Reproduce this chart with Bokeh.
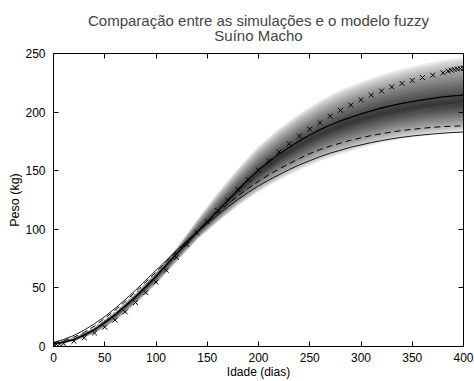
import numpy as np
from bokeh.plotting import figure
from bokeh.models import Range1d, LinearAxis, Title, SingleIntervalTicker
from bokeh.embed import file_html
from bokeh.resources import INLINE

# ---- data ----
dias = list(range(0, 401, 10))
solida_sup = [2, 3.5, 6, 9.5, 14.5, 20.5, 27, 34.5, 42.5, 51, 60, 69.5, 79, 88.5, 97.5,
              106.5, 115.5, 124.5, 133.5, 142.5, 150.5, 157.5, 164, 170, 175.5, 180.5,
              185, 189, 192.5, 195.5, 198.5, 201, 203.5, 205.5, 207.5, 209, 210.5,
              211.8, 213, 213.8, 214.5]
pontilhada = [2.5, 4.5, 7.5, 11.5, 16.5, 22.5, 29.5, 37, 45, 53.5, 62, 71, 80, 89, 98,
              106.5, 115, 123, 130.5, 137.5, 144, 150, 155.5, 160.5, 165, 169.5, 174,
              178, 181.5, 185, 188, 190.5, 193, 195.5, 197.5, 199.5, 201.5, 203.5,
              205, 206.5, 207.5]
tracejada = [3, 5, 8, 12, 17.5, 24, 31, 38.5, 46.5, 55, 63.5, 72.5, 81, 89.5, 98, 106,
             114, 121.5, 128.5, 135, 141, 146.5, 151.5, 156, 160.5, 164.5, 168, 171,
             173.5, 176, 178, 180, 181.5, 183, 184.3, 185.3, 186.2, 187, 187.6, 188, 188.3]
solida_inf = [3.5, 6, 9.5, 14, 19.5, 25.5, 32.5, 40, 48, 56.5, 65, 73.5, 82, 90, 97.5,
              105, 112, 119, 125.5, 131.5, 137, 142, 146.5, 151, 155, 158.5, 162, 165,
              167.5, 170, 172, 174, 175.7, 177.2, 178.5, 179.6, 180.5, 181.3, 182,
              182.6, 183]

dias_marc = [0, 3, 6] + list(range(10, 381, 10)) + [385, 388, 391, 394, 397, 400]
peso_marc = [1.5, 1.8, 2.1, 2.5, 4.5, 7.5, 11.5, 16.5, 22.5, 29.5, 37.5, 46, 55, 65, 76,
             87, 97, 106.5, 116, 125, 134, 142.5, 150.5, 158.5, 166, 173, 179.5, 185.5,
             191, 196.5, 201.5, 206, 210.5, 214.5, 218, 221.5, 224.5, 227, 229.5, 231.5,
             233.5, 235, 235.7, 236.3, 236.8, 237.2, 237.5]

# fuzzy band (lower edge, peak, upper edge)
dias_fuzzy = list(range(0, 401, 20))
fuzzy_inf = [1.5, 4.5, 11, 21.5, 36, 53, 72, 91, 106, 120, 132, 142, 150.5, 158, 164,
             169, 173.5, 177, 179.5, 181.5, 183]
fuzzy_pico = [2, 6, 14.5, 27, 42, 59.5, 79, 97.5, 115, 132, 148, 161, 172, 181, 188,
              194, 198.5, 202, 205, 207, 208.5]
fuzzy_sup = [2, 7, 16, 29, 45, 63, 84, 108, 131, 152, 171, 186, 199, 210, 219, 226,
             232, 237, 241, 244.5, 247]

titulo = "Comparação entre as simulações e o modelo fuzzy"
subtitulo = "Suíno Macho"

xticks_step = 50
yticks_step = 50

FONT = "Liberation Sans"

p = figure(width=474, height=381, x_range=Range1d(0, 400), y_range=Range1d(0, 250),
           output_backend="svg", toolbar_location=None,
           min_border_left=53, min_border_right=11, min_border_top=53, min_border_bottom=32)
p.grid.visible = False
p.outline_line_color = "black"
p.outline_line_width = 1
p.background_fill_color = "white"
p.border_fill_color = "white"

# gradient band
lo = np.array(fuzzy_inf, dtype=float)
pk = np.array(fuzzy_pico, dtype=float)
hi = np.array(fuzzy_sup, dtype=float)
N = 36
for i in range(N):
    t = i / N
    y1 = lo + (pk - lo) * t
    y2 = hi - (hi - pk) * t
    d = ((i + 1) / N) ** 0.7
    g = int(round(255 - (255 - 55) * d))
    col = "#%02x%02x%02x" % (g, g, g)
    p.varea(x=dias_fuzzy, y1=y1, y2=y2, fill_color=col)

p.line(dias, solida_inf, line_color="black", line_width=0.9)
p.line(dias, tracejada, line_color="black", line_width=1, line_dash="6 4")
p.line(dias, pontilhada, line_color="#666666", line_width=1.1, line_dash="1 3")
p.line(dias, solida_sup, line_color="black", line_width=1.3)
p.scatter(dias_marc, peso_marc, marker="x", size=7, line_color="black", line_width=1)

xa = p.xaxis[0]
ya = p.yaxis[0]
xa.ticker = SingleIntervalTicker(interval=xticks_step)
ya.ticker = SingleIntervalTicker(interval=yticks_step)
for ax in (xa, ya):
    ax.major_tick_in = 5
    ax.major_tick_out = 0
    ax.minor_tick_line_color = None
    ax.axis_line_color = "black"
    ax.major_label_text_font = FONT
    ax.major_label_text_font_size = "12px"
    ax.major_label_text_color = "black"
    ax.axis_label_text_font = FONT
    ax.axis_label_text_font_style = "normal"
    ax.axis_label_text_font_size = "12.5px"
    ax.axis_label_text_color = "black"
xa.axis_label = "Idade (dias)"
ya.axis_label = "Peso (kg)"
xa.axis_label_text_font_size = "12px"
xa.major_label_standoff = 2
xa.axis_label_standoff = 0
ya.major_label_standoff = 4
ya.axis_label_standoff = 0

top = LinearAxis(ticker=SingleIntervalTicker(interval=xticks_step))
right = LinearAxis(ticker=SingleIntervalTicker(interval=yticks_step))
for ax in (top, right):
    ax.major_tick_in = 5
    ax.major_tick_out = 0
    ax.minor_tick_line_color = None
    ax.major_label_text_color = None
    ax.major_label_text_font_size = "1px"
    ax.major_label_standoff = 0
    ax.axis_line_color = "black"
p.add_layout(top, "above")
p.add_layout(right, "right")

p.add_layout(Title(text=subtitulo, align="center", text_font=FONT,
                   text_font_size="15px", text_font_style="normal",
                   text_line_height=1.0, standoff=11), "above")
p.add_layout(Title(text=titulo, align="center",
                   text_font=FONT, text_font_size="15px", text_font_style="normal",
                   text_line_height=1.0, standoff=-18), "above")

open("out.html", "w").write(file_html(p, INLINE))
